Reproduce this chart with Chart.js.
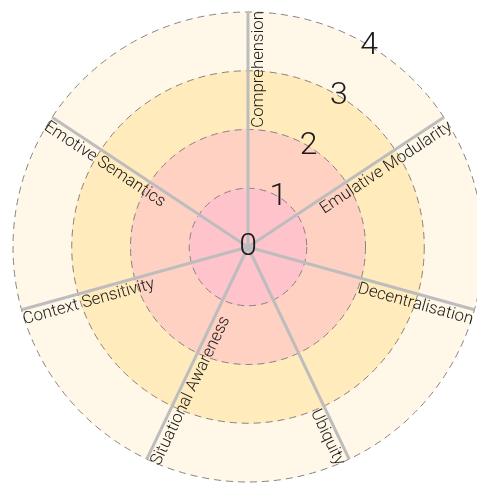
<!DOCTYPE html>
<html>
<head>
<meta charset="utf-8">
<script src="https://cdn.jsdelivr.net/npm/chart.js@4/dist/chart.umd.min.js"></script>
<style>
  html, body { margin: 0; padding: 0; background: #fff; overflow: hidden; }
  #wrap { width: 490px; height: 485px; }
</style>
</head>
<body>
<div id="wrap"><canvas id="radar" width="490" height="485"></canvas></div>
<script>
const axisLabels = ['Comprehension', 'Emulative Modularity', 'Decentralisation', 'Ubiquity',
                    'Situational Awareness', 'Context Sensitivity', 'Emotive Semantics'];
const levels = [1, 2, 3, 4];
const levelColours = ['#ffc3cb', '#ffd1c2', '#ffebbb', '#fff8e8'];
const tickValues = [0, 1, 2, 3, 4];
// spoke directions, degrees clockwise from 12 o'clock
const axisAngles = [0, 56.5, 105.5, 154.5, 205.5, 254.5, 303.5];

// radial scale whose spokes follow axisAngles instead of an even split
class SpokeScale extends Chart.RadialLinearScale {
    getIndexAngle(index) {
        return axisAngles[index] * Math.PI / 180;
    }
}
SpokeScale.id = 'spokeRadial';
SpokeScale.defaults = Chart.RadialLinearScale.defaults;
Chart.register(SpokeScale);

const labelFont = '300 16.8px "Helvetica Neue", Roboto, "Liberation Sans", sans-serif';
const tickFont = '300 32px "Helvetica Neue", Roboto, "Liberation Sans", sans-serif';

// axis names written along each spoke, value numbers along a slanted ray
const axisText = {
    id: 'axisText',
    afterDraw(chart) {
        const scale = chart.scales.r;
        const ctx = chart.ctx;
        const outer = scale.drawingArea + 1;
        ctx.save();
        ctx.fillStyle = '#1a1a1a';
        ctx.font = labelFont;
        ctx.textBaseline = 'top';
        axisLabels.forEach((label, i) => {
            const p = scale.getPointPosition(i, outer);
            const a = p.angle;
            const flip = Math.cos(a) < -0.01;
            ctx.save();
            ctx.translate(p.x, p.y);
            ctx.rotate(flip ? a + Math.PI : a);
            ctx.textAlign = flip ? 'left' : 'right';
            ctx.fillText(label, 0, 2);
            ctx.restore();
        });

        ctx.font = tickFont;
        ctx.textAlign = 'center';
        ctx.textBaseline = 'middle';
        tickValues.forEach(v => {
            const p = scale.getPointPosition(0, scale.getDistanceFromCenterForValue(v), 31 * Math.PI / 180);
            ctx.fillText(String(v), p.x, p.y);
        });
        ctx.restore();
    }
};

// one full ring per level, largest drawn first
const datasets = levels.map((lvl, i) => ({
    data: axisLabels.map(() => lvl),
    backgroundColor: levelColours[i],
    borderColor: levelColours[i],
    borderWidth: 1
}));

new Chart(document.getElementById('radar'), {
    type: 'polarArea',
    data: { labels: axisLabels, datasets: datasets },
    options: {
        responsive: false,
        animation: false,
        events: [],
        layout: { padding: { left: 13, top: 12, right: 7, bottom: 3 } },
        plugins: { legend: { display: false }, tooltip: { enabled: false } },
        scales: {
            r: {
                type: 'spokeRadial',
                min: 0,
                max: 4,
                ticks: { display: false, stepSize: 1 },
                grid: { circular: true, color: '#858585', lineWidth: 1, z: 1 },
                border: { dash: [7, 5] },
                angleLines: { display: true, color: '#bdbdbd', lineWidth: 3 },
                pointLabels: { display: false }
            }
        }
    },
    plugins: [axisText]
});
</script>
</body>
</html>
